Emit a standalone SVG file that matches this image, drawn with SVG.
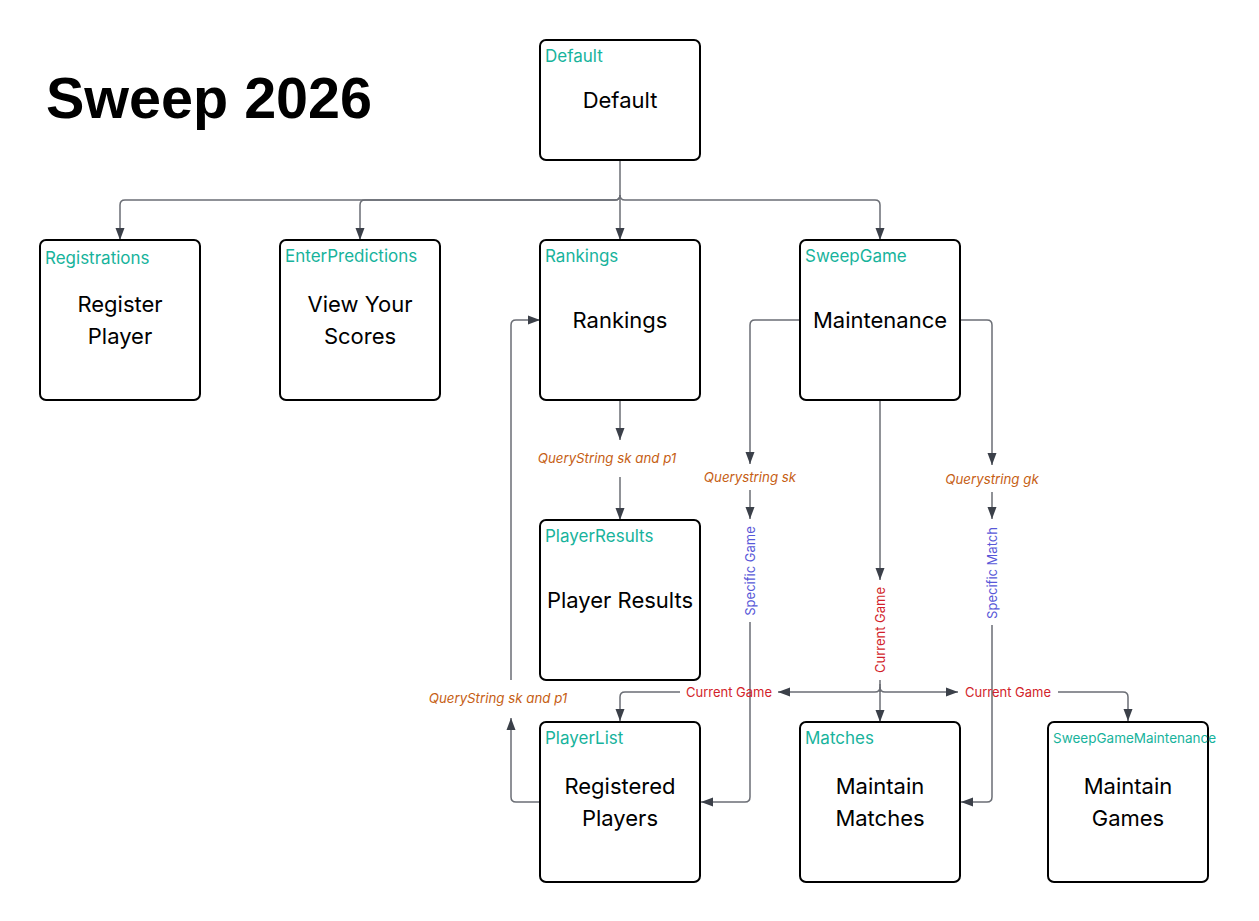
<svg xmlns="http://www.w3.org/2000/svg" width="1259" height="921" viewBox="0 0 1259 921">
<style>
.box{fill:#fff;stroke:#000;stroke-width:2}
.id{font-family:Inter,"Liberation Sans",sans-serif;font-size:17px;fill:#17b39c}
.main{font-family:Inter,"Liberation Sans",sans-serif;font-size:22px;fill:#000;text-anchor:middle}
.ln{fill:none;stroke:#6b6e75;stroke-width:1.5}
.qs{font-family:Inter,"Liberation Sans",sans-serif;font-size:13.3px;font-style:italic;fill:#c65e14;text-anchor:middle}
.cg{font-family:Inter,"Liberation Sans",sans-serif;font-size:13px;fill:#d21f2c;text-anchor:middle}
.sp{font-family:Inter,"Liberation Sans",sans-serif;font-size:13px;fill:#5858d8;text-anchor:middle}
.title{font-family:"Liberation Sans",Arial,sans-serif;font-size:57.5px;font-weight:bold;fill:#000}
</style>
<defs>
<marker id="ah" markerUnits="userSpaceOnUse" markerWidth="12" markerHeight="12" viewBox="0 0 12 12" refX="12" refY="6" orient="auto">
<path d="M0,1.5 L12,6 L0,10.5 Z" fill="#3b4049"/>
</marker>
</defs>
<text class="title" x="46" y="118">Sweep 2026</text>

<g id="connectors">
<path class="ln" marker-end="url(#ah)" d="M620,160 V240"/>
<path class="ln" marker-end="url(#ah)" d="M620,195 Q620,200 615,200 H125 Q120,200 120,205 V240"/>
<path class="ln" marker-end="url(#ah)" d="M620,195 Q620,200 615,200 H365 Q360,200 360,205 V240"/>
<path class="ln" marker-end="url(#ah)" d="M620,195 Q620,200 625,200 H875 Q880,200 880,205 V240"/>

<path class="ln" marker-end="url(#ah)" d="M620,400 V440"/>
<text class="qs" x="607" y="463">QueryString sk and p1</text>
<path class="ln" marker-end="url(#ah)" d="M620,477 V520"/>

<path class="ln" marker-end="url(#ah)" d="M800,320 H755 Q750,320 750,325 V464"/>
<text class="qs" x="750" y="482">Querystring sk</text>
<path class="ln" marker-end="url(#ah)" d="M750,490 V519"/>
<text class="sp" transform="translate(755,571) rotate(-90)" x="0" y="0">Specific Game</text>
<path class="ln" marker-end="url(#ah)" d="M750,622 V797 Q750,802 745,802 H701"/>

<path class="ln" marker-end="url(#ah)" d="M960,320 H987 Q992,320 992,325 V465"/>
<text class="qs" x="992" y="484">Querystring gk</text>
<path class="ln" marker-end="url(#ah)" d="M992,492 V519"/>
<text class="sp" transform="translate(997,573) rotate(-90)" x="0" y="0">Specific Match</text>
<path class="ln" marker-end="url(#ah)" d="M992,625 V797 Q992,802 987,802 H961"/>

<path class="ln" marker-end="url(#ah)" d="M880,400 V580"/>
<text class="cg" transform="translate(885,630) rotate(-90)" x="0" y="0">Current Game</text>
<path class="ln" d="M880,680 V692"/>
<path class="ln" marker-end="url(#ah)" d="M880,684 V722"/>
<path class="ln" marker-end="url(#ah)" d="M880,687 Q880,692 875,692 H778"/>
<text class="cg" x="729" y="697">Current Game</text>
<path class="ln" marker-end="url(#ah)" d="M680,692 H625 Q620,692 620,697 V721"/>
<path class="ln" marker-end="url(#ah)" d="M880,687 Q880,692 885,692 H958"/>
<text class="cg" x="1008" y="697">Current Game</text>
<path class="ln" marker-end="url(#ah)" d="M1058,692 H1123 Q1128,692 1128,697 V721"/>

<path class="ln" marker-end="url(#ah)" d="M540,802 H516 Q511,802 511,797 V718"/>
<text class="qs" x="498" y="703">QueryString sk and p1</text>
<path class="ln" marker-end="url(#ah)" d="M511,680 V325 Q511,320 516,320 H540"/>
</g>

<g id="node-default">
<rect class="box" x="540" y="40" width="160" height="120" rx="6"/>
<text class="id" x="545" y="62">Default</text>
<text class="main" x="620" y="108">Default</text>
</g>
<g id="node-registrations">
<rect class="box" x="40" y="240" width="160" height="160" rx="6"/>
<text class="id" x="45" y="264">Registrations</text>
<text class="main" x="120" y="312">Register</text>
<text class="main" x="120" y="344">Player</text>
</g>
<g id="node-enterpredictions">
<rect class="box" x="280" y="240" width="160" height="160" rx="6"/>
<text class="id" x="285" y="262">EnterPredictions</text>
<text class="main" x="360" y="312">View Your</text>
<text class="main" x="360" y="344">Scores</text>
</g>
<g id="node-rankings">
<rect class="box" x="540" y="240" width="160" height="160" rx="6"/>
<text class="id" x="545" y="262">Rankings</text>
<text class="main" x="620" y="328">Rankings</text>
</g>
<g id="node-sweepgame">
<rect class="box" x="800" y="240" width="160" height="160" rx="6"/>
<text class="id" x="805" y="262">SweepGame</text>
<text class="main" x="880" y="328">Maintenance</text>
</g>
<g id="node-playerresults">
<rect class="box" x="540" y="520" width="160" height="160" rx="6"/>
<text class="id" x="545" y="542">PlayerResults</text>
<text class="main" x="620" y="608">Player Results</text>
</g>
<g id="node-playerlist">
<rect class="box" x="540" y="722" width="160" height="160" rx="6"/>
<text class="id" x="545" y="744">PlayerList</text>
<text class="main" x="620" y="794">Registered</text>
<text class="main" x="620" y="826">Players</text>
</g>
<g id="node-matches">
<rect class="box" x="800" y="722" width="160" height="160" rx="6"/>
<text class="id" x="805" y="744">Matches</text>
<text class="main" x="880" y="794">Maintain</text>
<text class="main" x="880" y="826">Matches</text>
</g>
<g id="node-sweepgamemaintenance">
<rect class="box" x="1048" y="722" width="160" height="160" rx="6"/>
<text class="id" x="1053" y="743" style="font-size:13.5px">SweepGameMaintenance</text>
<text class="main" x="1128" y="794">Maintain</text>
<text class="main" x="1128" y="826">Games</text>
</g>
</svg>
